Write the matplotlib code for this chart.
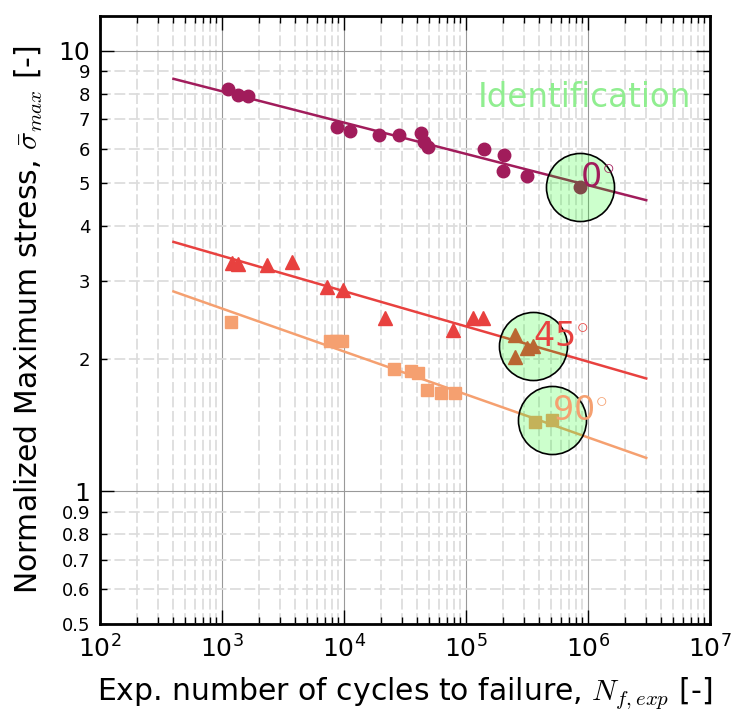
import matplotlib
matplotlib.use('Agg')
import matplotlib.pyplot as plt
import numpy as np
from matplotlib.ticker import LogLocator, FixedLocator, FixedFormatter, NullFormatter

plt.rcParams['mathtext.fontset'] = 'cm'

# experimental data, 0 deg (circles)
n_0 = [1127, 1362, 1625, 8710, 11200, 19450, 28380, 42540, 45300, 48550,
       140600, 204800, 202100, 314600, 859000]
s_0 = [8.20, 7.95, 7.88, 6.70, 6.59, 6.43, 6.43, 6.51, 6.22, 6.05,
       5.99, 5.79, 5.35, 5.21, 4.92]

# 45 deg (triangles)
n_45 = [1201, 1345, 2350, 3724, 7210, 9750, 21670, 78720, 113500, 138700,
        252300, 314600, 356500, 252300]
s_45 = [3.30, 3.28, 3.27, 3.32, 2.91, 2.87, 2.48, 2.33, 2.48, 2.48,
        2.27, 2.12, 2.14, 2.02]

# 90 deg (squares)
n_90 = [1186, 7670, 8590, 9630, 25800, 35400, 40180, 48170, 62400, 81280,
        368000, 503700]
s_90 = [2.42, 2.19, 2.19, 2.19, 1.90, 1.88, 1.86, 1.70, 1.67, 1.67,
        1.44, 1.45]

# Basquin fits S = A * N^b
basquin_A = [13.23, 5.95, 5.10]
basquin_b = [-0.0711, -0.0800, -0.0975]
n_fit = [400, 3e6]

# identification points (circled)
id_n = [859000, 356500, 509600]
id_s = [4.92, 2.135, 1.45]
orient_labels = ['0', '45', '90']

colors = ['#a11c5b', '#e8413f', '#f5a070']
markers = ['o', '^', 's']
msizes = [9, 10, 9]

fig = plt.figure(figsize=(7.31, 7.10), dpi=100)
ax = fig.add_axes([0.1368, 0.1211, 0.8345, 0.8564])

data = [(n_0, s_0), (n_45, s_45), (n_90, s_90)]
nn = np.logspace(np.log10(n_fit[0]), np.log10(n_fit[1]), 50)
for i, (n, s) in enumerate(data):
    ax.plot(nn, basquin_A[i] * nn ** basquin_b[i], color=colors[i], lw=1.8, zorder=3)
    ax.plot(n, s, linestyle='none', marker=markers[i], ms=msizes[i],
            color=colors[i], mec=colors[i], zorder=4)

# identification circles
ax.plot(id_n, id_s, linestyle='none', marker='o', ms=49,
        mfc=(0, 1, 0, 0.2), mec='black', mew=1.2, zorder=5)
for i in range(3):
    ax.text(id_n[i], id_s[i], orient_labels[i] + r'$^{\circ}$', color=colors[i],
            fontsize=24, ha='left', va='baseline', zorder=6)

ax.text(0.62, 0.851, 'Identification', color='#90ee90', fontsize=23.5,
        transform=ax.transAxes, ha='left', va='baseline')

ax.set_xscale('log')
ax.set_yscale('log')
ax.set_xlim(1e2, 1e7)
ax.set_ylim(0.5, 12)

ax.xaxis.set_major_locator(LogLocator(base=10, numticks=10))
ax.xaxis.set_minor_locator(LogLocator(base=10, subs=np.arange(2, 10), numticks=10))
ax.xaxis.set_minor_formatter(NullFormatter())

ax.yaxis.set_major_locator(FixedLocator([1, 10]))
ax.yaxis.set_major_formatter(FixedFormatter(['1', '10']))
minor_y = [0.5, 0.6, 0.7, 0.8, 0.9, 2, 3, 4, 5, 6, 7, 8, 9]
ax.yaxis.set_minor_locator(FixedLocator(minor_y))
ax.yaxis.set_minor_formatter(FixedFormatter([str(v) for v in minor_y]))

ax.tick_params(which='both', direction='in', top=True, right=True)
ax.tick_params(which='major', length=10, width=1, labelsize=18)
ax.tick_params(which='minor', length=5, width=1, labelsize=13)
ax.tick_params(axis='y', which='both', pad=7)
ax.tick_params(axis='x', which='major', pad=8)

ax.grid(which='major', color='#999999', linestyle='-', lw=0.8)
ax.grid(which='minor', color='#dddddd', linestyle=(0, (6, 2)), lw=1.3)
ax.set_axisbelow(True)
for sp in ax.spines.values():
    sp.set_linewidth(2)

ax.set_xlabel(r'Exp. number of cycles to failure, $N_{f,exp}$ [-]', fontsize=21.5, labelpad=9)
ax.set_ylabel(r'Normalized Maximum stress, $\bar{\sigma}_{max}$ [-]', fontsize=21.5, labelpad=10)

fig.savefig('out.png', dpi=100)
